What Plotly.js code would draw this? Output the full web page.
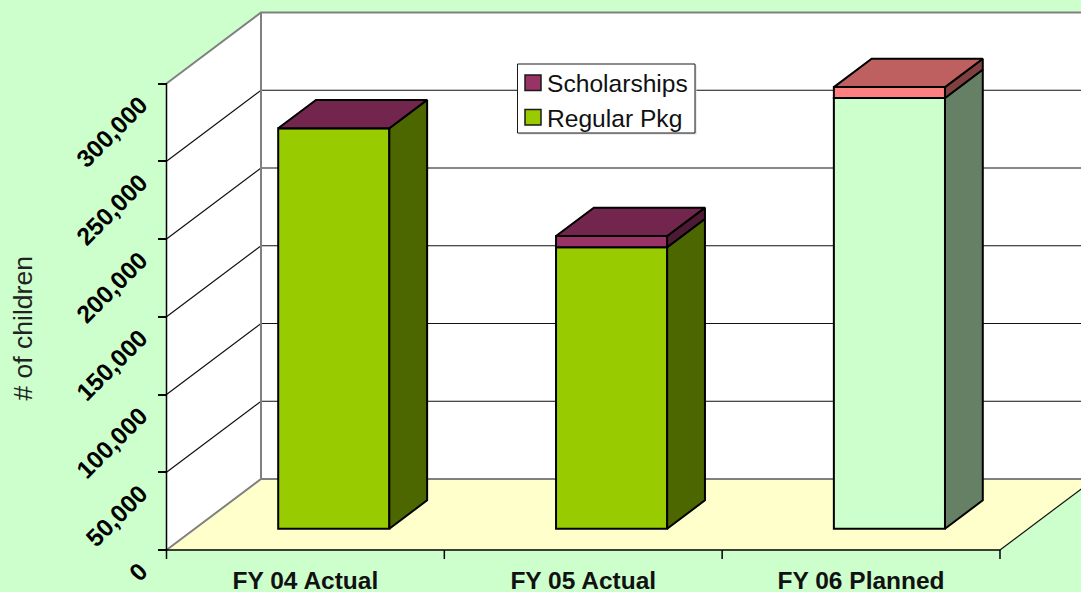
<!DOCTYPE html>
<html>
<head>
<meta charset="utf-8">
<script src="https://cdn.plot.ly/plotly-3.0.1.min.js"></script>
<style>html,body{margin:0;padding:0;background:#CCFFCC;overflow:hidden}#chart{width:1081px;height:592px}</style>
</head>
<body>
<div id="chart"></div>
<script>
const categories = ["FY 04 Actual", "FY 05 Actual", "FY 06 Planned"];
const regularPkg = [257500, 181000, 277000];
const scholarships = [0, 7200, 7000];
const yTicks = [0, 50000, 100000, 150000, 200000, 250000, 300000];
const regularFront = ["#99CC00", "#99CC00", "#CCFFCC"];
const regularSide  = ["#4C6600", "#4C6600", "#668066"];
const scholarFront = ["#993366", "#993366", "#FF8080"];
const scholarSide  = ["#4C1A33", "#4C1A33", "#804040"];
const scholarTop   = ["#73264D", "#73264D", "#BF6060"];

const W = 1081, H = 592, X0 = 166.5, Y0 = 550, PXU = 277.83, PXV = 466.5 / 300000;
const DX = 94.5 / PXU, DY = 71 / PXV;
const D0 = 0.3, D1 = 0.7, BW = 0.4;
const FONT = "Liberation Sans, Arial, sans-serif";
const p = (x, v, d) => [x + d * DX, v + d * DY];
const path = pts => "M" + pts.map(q => q[0] + "," + q[1]).join("L");
const pathZ = pts => path(pts) + "Z";

const shapes = [];
function poly(pts, fill) { shapes.push({type:"path", xref:"x", yref:"y", layer:"below", path:pathZ(pts), fillcolor:fill, line:{width:0}}); }
function line(pts, color, width) { shapes.push({type:"path", xref:"x", yref:"y", layer:"below", path:path(pts), line:{color:color, width:width}}); }
const YMAX = yTicks[yTicks.length - 1], XMAX = categories.length;

poly([p(0,0,0), p(0,0,1), p(0,YMAX,1), p(0,YMAX,0)], "#FFFFFF");
poly([p(0,0,1), p(XMAX,0,1), p(XMAX,YMAX,1), p(0,YMAX,1)], "#FFFFFF");
poly([p(0,0,0), p(0,0,1), p(XMAX,0,1), p(XMAX,0,0)], "#FFFFCC");
yTicks.slice(1, -1).forEach(v => line([p(0,v,0), p(0,v,1), p(XMAX,v,1)], "#111111", 1.2));
line([p(0,YMAX,0), p(0,YMAX,1), p(XMAX,YMAX,1)], "#808080", 2);
line([p(0,0,1), p(0,YMAX,1)], "#808080", 2);
line([p(0,0,0), p(0,0,1), p(XMAX,0,1)], "#808080", 2);
line([p(XMAX,0,0), p(XMAX,0,1)], "#111111", 1.2);
line([p(0,0,0), p(0,YMAX,0)], "#000000", 1.5);
line([p(0,0,0), p(XMAX,0,0)], "#000000", 1.5);
for (let i = 0; i <= XMAX; i++) line([[i,0],[i,-9/PXV]], "#000000", 1.5);

const centers = categories.map((c, i) => i + 0.5);
const barX = centers.map(c => c + D0 * DX);
const base = D0 * DY;
const traces = [
  {type:"bar", name:"Regular Pkg", x:barX, y:regularPkg, base:regularPkg.map(() => base), width:BW,
   marker:{color:regularFront, line:{color:"#000", width:2}}, showlegend:false, hoverinfo:"skip"},
  {type:"bar", name:"Scholarships", x:barX, y:scholarships, base:regularPkg.map(v => base + v), width:BW,
   marker:{color:scholarFront, line:{color:"#000", width:2}}, showlegend:false, hoverinfo:"skip"}
];
function face(pts, fill) {
  const c = pts.concat([pts[0]]);
  traces.push({type:"scatter", mode:"lines", x:c.map(q=>q[0]), y:c.map(q=>q[1]), fill:"toself", fillcolor:fill,
    line:{color:"#000", width:2}, showlegend:false, hoverinfo:"skip"});
}
categories.forEach((c, i) => {
  const l = centers[i] - BW/2, r = centers[i] + BW/2, a = regularPkg[i], b = a + scholarships[i];
  face([p(r,0,D0), p(r,0,D1), p(r,a,D1), p(r,a,D0)], regularSide[i]);
  if (scholarships[i] > 0) face([p(r,a,D0), p(r,a,D1), p(r,b,D1), p(r,b,D0)], scholarSide[i]);
  face([p(l,b,D0), p(r,b,D0), p(r,b,D1), p(l,b,D1)], scholarTop[i]);
});

// legend
const px = x => x / W, py = y => 1 - y / H;
function box(x0, y0, x1, y1, fill, lw) {
  shapes.push({type:"rect", xref:"paper", yref:"paper", layer:"above", x0:px(x0), x1:px(x1), y0:py(y1), y1:py(y0),
    fillcolor:fill, line:{color:"#1A1A1A", width:lw}});
}
shapes.push({type:"rect", xref:"paper", yref:"paper", layer:"above", x0:px(519), x1:px(696.5), y0:py(134.5), y1:py(65.5), fillcolor:"#D8D8D8", line:{width:0}});
box(517.5, 64, 695, 133, "#FFFFFF", 1);
box(525, 75, 541, 90.5, scholarFront[0], 1.5);
box(525, 109.5, 541, 125, regularFront[0], 1.5);
const annotations = [
  {xref:"paper", yref:"paper", x:px(545), y:py(83), xanchor:"left", yanchor:"middle", showarrow:false, text:"Scholarships", font:{family:FONT, size:24.6, color:"#111"}},
  {xref:"paper", yref:"paper", x:px(545), y:py(118), xanchor:"left", yanchor:"middle", showarrow:false, text:"Regular Pkg", font:{family:FONT, size:24.6, color:"#111"}},
  {xref:"paper", yref:"paper", x:px(22), y:py(328.5), xanchor:"center", yanchor:"middle", showarrow:false, textangle:-90, text:"# of children", font:{family:FONT, size:26.5, color:"#222"}}
];

const layout = {
  width:W, height:H, margin:{l:0, r:0, t:0, b:0},
  paper_bgcolor:"#CCFFCC", plot_bgcolor:"rgba(0,0,0,0)", barmode:"overlay", showlegend:false,
  xaxis:{range:[-X0/PXU, (W-X0)/PXU], anchor:"free", position:(H-Y0)/H, tickmode:"array", tickvals:centers, ticktext:categories,
    ticks:"", showgrid:false, zeroline:false, showline:false, ticklabelstandoff:13, automargin:false,
    tickfont:{family:FONT, size:24.5, color:"#111", weight:"bold"}},
  yaxis:{range:[-(H-Y0)/PXV, Y0/PXV], anchor:"free", position:X0/W, tickmode:"array", tickvals:yTicks, tickformat:",d",
    ticks:"outside", ticklen:9, tickwidth:1.5, tickcolor:"#000", showgrid:false, zeroline:false, showline:false,
    tickangle:-45, ticklabelstandoff:12, ticklabelshift:18, automargin:false,
    tickfont:{family:FONT, size:24.5, color:"#000", weight:"bold"}},
  shapes:shapes, annotations:annotations
};
Plotly.newPlot("chart", traces, layout, {displayModeBar:false, responsive:false});
</script>
</body>
</html>
